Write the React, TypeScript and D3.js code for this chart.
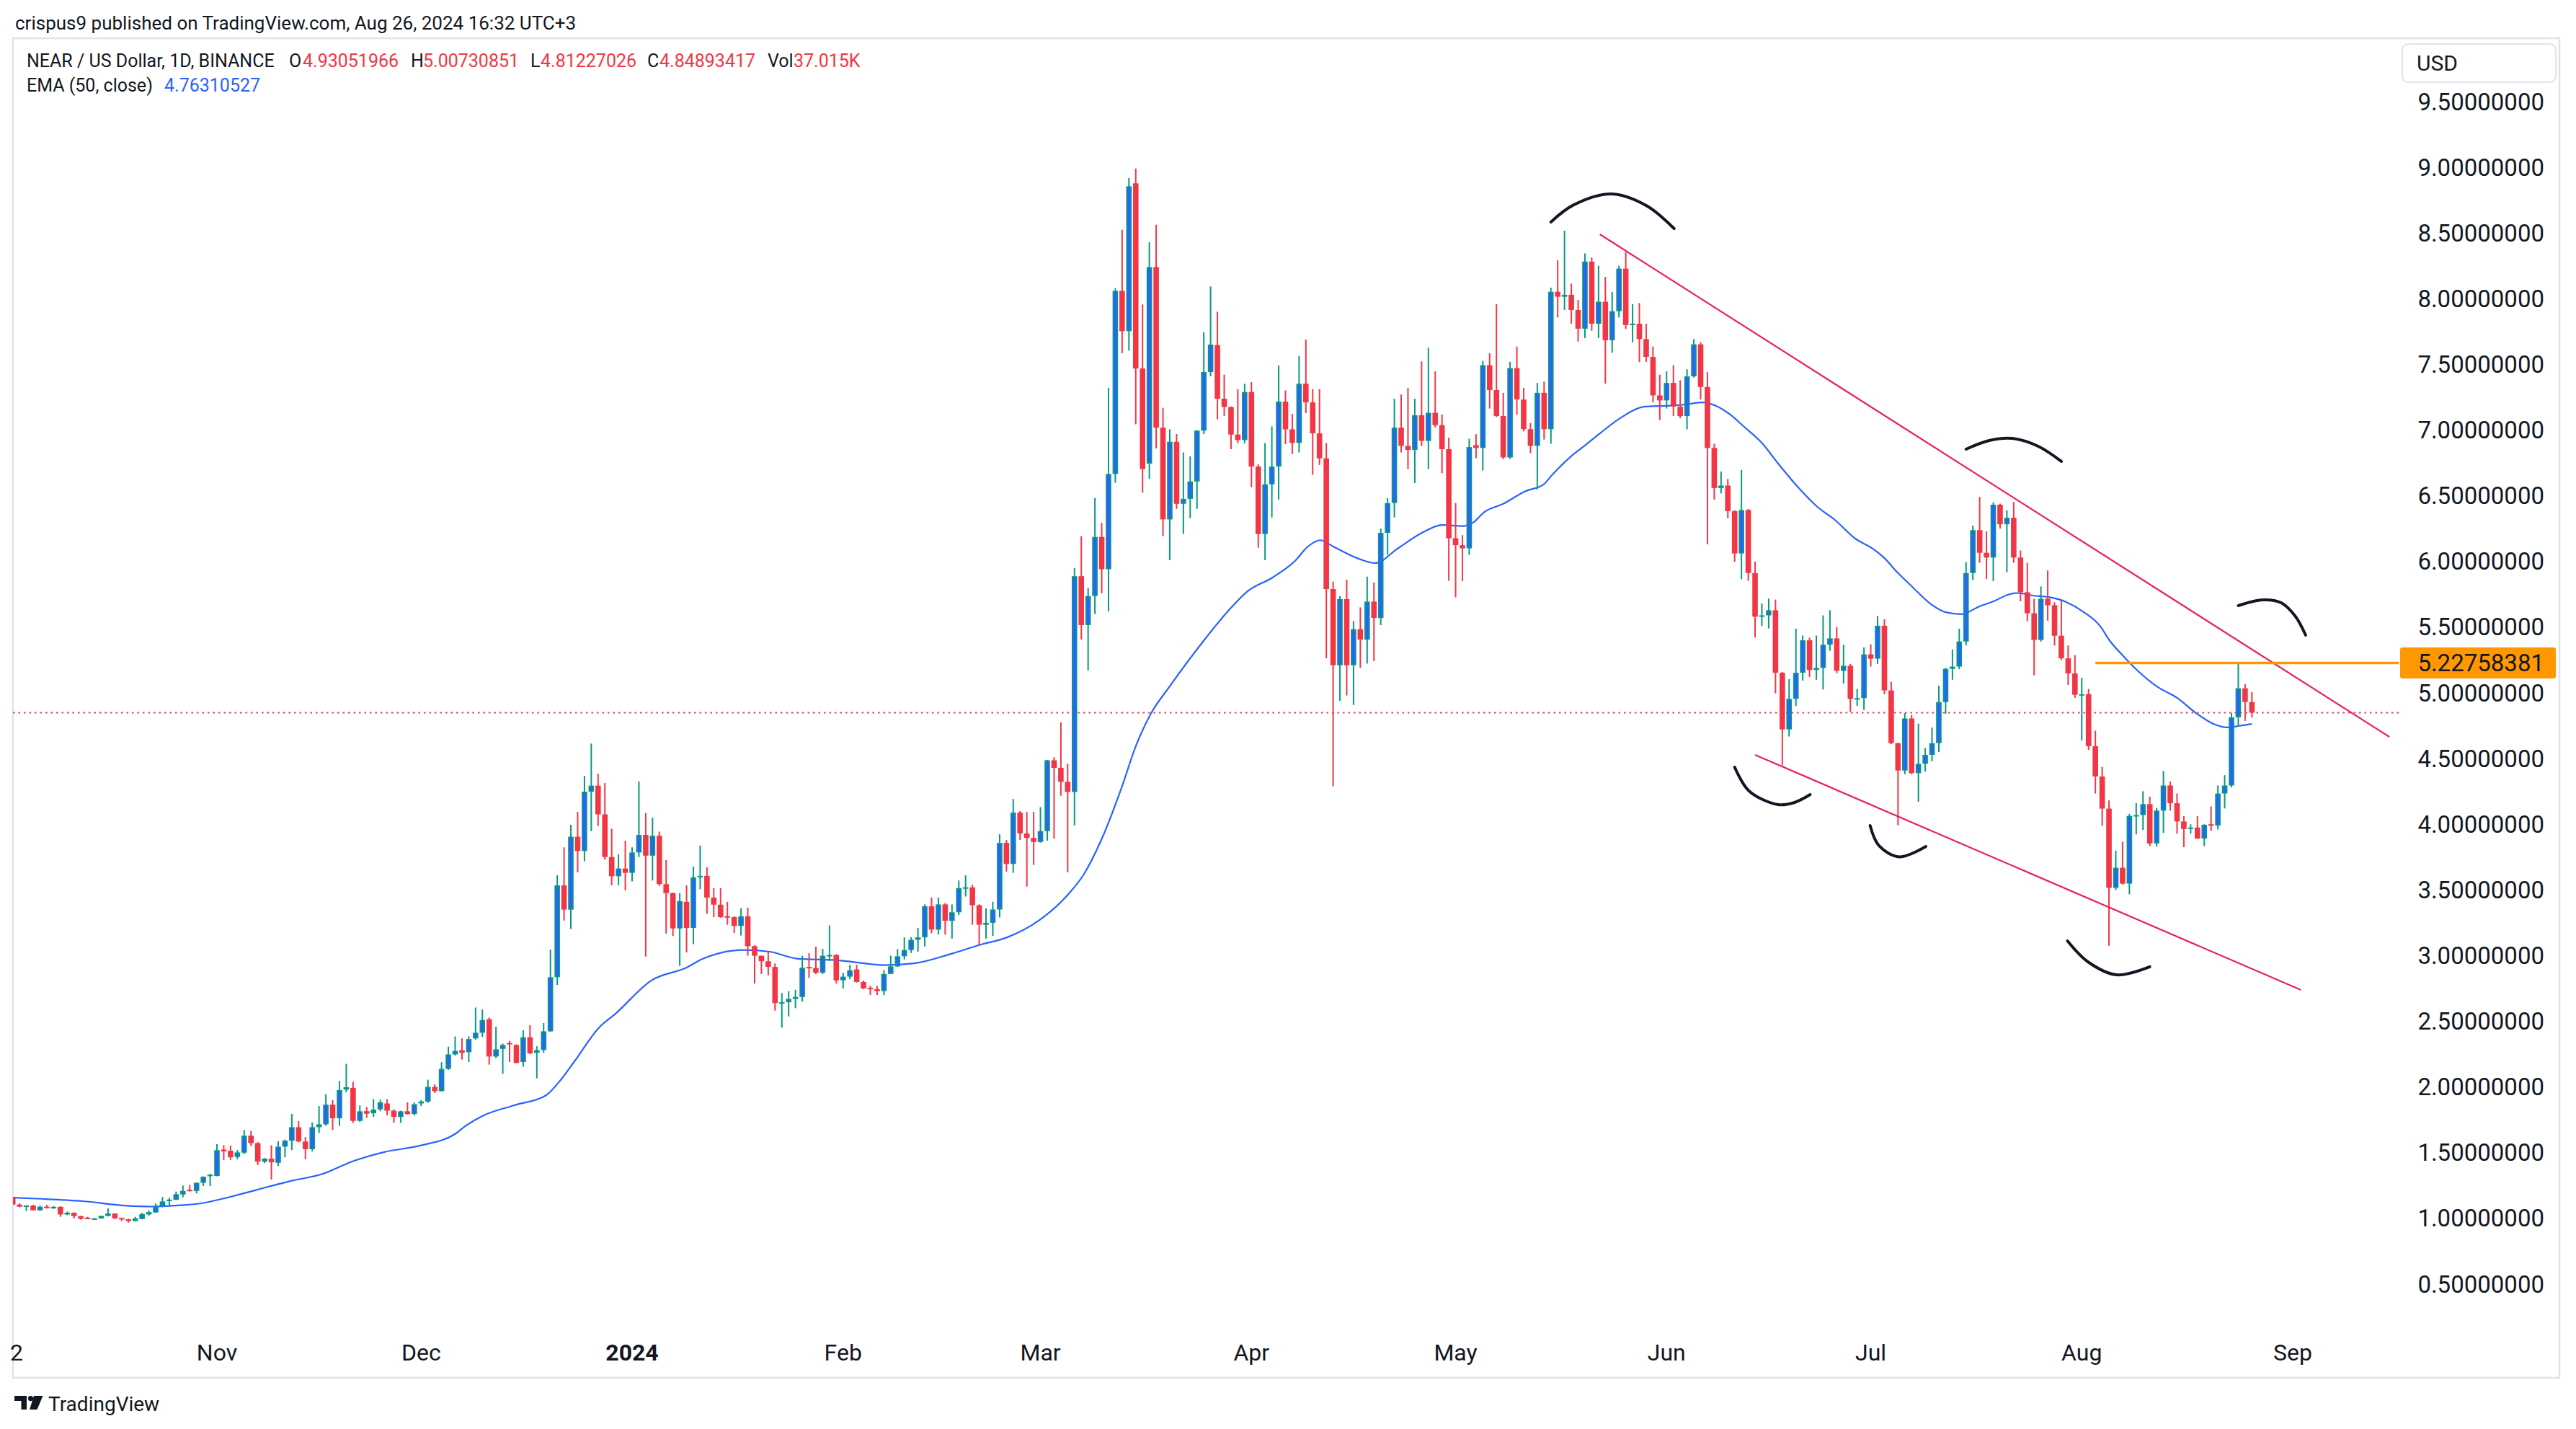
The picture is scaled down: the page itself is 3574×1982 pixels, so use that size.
import React from "react";
import * as d3 from "d3";

// ---------- DATA (NEAR / USD, 1D, Binance) ----------
const FIRST_CANDLE = Date.UTC(2023, 9, 2); // Oct 2 2023
const AXIS_ORIGIN = Date.UTC(2023, 10, 1); // Nov 1 2023

const opens = [
  1.16,1.105,1.089,1.098,1.061,1.089,1.081,1.088,1.030,1.043,
  1.017,1.005,0.998,1.0,1.019,1.037,1.003,0.993,0.979,0.995,
  1.03,1.045,1.094,1.131,1.141,1.182,1.218,1.209,1.271,1.325,
  1.323,1.524,1.515,1.468,1.50,1.63,1.573,1.432,1.455,1.423,
  1.546,1.592,1.694,1.585,1.527,1.694,1.716,1.866,1.762,1.98,
  1.993,1.742,1.816,1.80,1.83,1.875,1.82,1.772,1.815,1.794,
  1.875,1.889,2.001,1.968,2.138,2.248,2.28,2.265,2.37,2.413,
  2.516,2.232,2.29,2.335,2.32,2.19,2.379,2.26,2.281,2.424,
  2.836,3.535,3.35,3.905,3.796,4.248,4.294,4.075,3.751,3.604,
  3.663,3.63,3.785,3.919,3.761,3.913,3.544,3.476,3.207,3.409,
  3.211,3.596,3.607,3.442,3.388,3.30,3.293,3.226,3.299,3.072,
  2.999,2.957,2.914,2.64,2.645,2.671,2.685,2.914,2.905,2.87,
  2.999,3.005,2.812,2.84,2.895,2.80,2.755,2.745,2.73,2.861,
  2.918,2.995,3.043,3.12,3.139,3.376,3.198,3.39,3.265,3.33,
  3.514,3.52,3.384,3.235,3.25,3.351,3.858,3.698,4.089,3.93,
  3.896,3.865,3.948,4.487,4.429,4.323,4.246,5.888,5.516,5.737,
  6.187,5.941,6.666,8.06,7.753,8.878,7.469,6.745,8.241,7.019,
  6.32,6.911,6.439,6.477,6.609,6.996,7.442,7.648,7.239,7.176,
  6.966,6.924,7.29,6.723,6.209,6.587,6.723,7.217,7.006,6.902,
  7.353,7.211,6.975,6.785,5.79,5.21,5.714,5.21,5.485,5.405,
  5.695,5.57,6.218,6.445,7.019,6.88,6.849,7.113,6.918,7.132,
  7.038,6.855,6.177,6.124,6.10,6.886,6.864,7.494,7.305,7.107,
  6.792,7.472,7.233,7.007,6.88,7.284,7.007,8.053,8.015,8.03,
  7.914,7.772,8.283,7.81,7.977,7.684,7.905,8.229,7.80,7.81,
  7.693,7.557,7.264,7.226,7.359,7.179,7.107,7.409,7.653,7.328,
  6.864,6.559,6.578,6.383,6.061,6.392,5.912,5.58,5.59,5.629,
  5.153,4.722,4.954,5.153,5.40,5.174,5.19,5.367,5.415,5.168,
  5.206,4.954,4.96,5.293,5.26,5.511,5.019,4.617,4.409,4.805,
  4.389,4.46,4.528,4.617,4.93,5.183,5.20,5.391,5.912,6.239,
  6.066,6.03,6.432,6.283,6.333,6.03,5.766,5.606,5.403,5.716,
  5.667,5.435,5.263,5.148,4.986,4.99,4.594,4.364,4.119,3.516,
  3.669,3.548,4.063,4.07,4.153,3.854,4.104,4.295,4.16,4.021,
  3.964,3.975,3.891,4.0,3.99,4.234,4.295,4.814,5.035,4.93051966,
];

const highs = [
  1.165,1.115,1.10,1.103,1.098,1.103,1.094,1.092,1.052,1.046,
  1.02,1.012,1.003,1.021,1.076,1.04,1.006,0.997,1.012,1.043,
  1.06,1.113,1.162,1.158,1.204,1.25,1.255,1.273,1.32,1.34,
  1.564,1.557,1.555,1.52,1.673,1.667,1.58,1.46,1.557,1.588,
  1.60,1.795,1.74,1.62,1.73,1.855,1.945,1.90,2.047,2.177,
  2.04,1.86,1.849,1.908,1.903,1.908,1.83,1.82,1.883,1.883,
  1.90,2.056,2.02,2.189,2.307,2.385,2.37,2.385,2.605,2.589,
  2.53,2.458,2.33,2.35,2.325,2.432,2.471,2.31,2.487,3.046,
  3.612,3.824,3.996,4.094,4.369,4.614,4.385,4.314,3.967,3.771,
  3.875,3.824,4.326,4.085,4.05,3.944,3.727,3.48,3.476,3.535,
  3.678,3.838,3.673,3.514,3.514,3.409,3.30,3.361,3.365,3.08,
  3.0,3.033,2.94,2.716,2.73,2.74,2.999,3.02,3.068,3.052,
  3.23,3.01,2.87,2.93,2.93,2.81,2.77,2.77,2.889,3.0,
  3.05,3.139,3.14,3.211,3.39,3.442,3.442,3.40,3.39,3.572,
  3.611,3.54,3.39,3.36,3.41,3.924,3.88,4.193,4.10,4.095,
  4.095,4.13,4.49,4.51,4.775,4.46,5.95,6.193,5.80,6.483,
  6.294,7.322,8.078,8.525,8.919,8.991,7.957,8.43,8.563,7.17,
  7.006,6.97,6.83,6.80,7.0,7.745,8.093,7.901,7.422,7.18,
  7.312,7.353,7.365,6.74,6.902,7.028,7.492,7.302,7.123,7.564,
  7.69,7.312,7.312,6.902,5.847,5.737,5.862,5.547,5.651,5.885,
  5.84,6.25,6.483,7.239,7.271,7.322,7.239,7.523,7.627,7.447,
  7.12,6.943,6.445,6.20,6.934,6.969,7.526,7.585,7.958,7.284,
  7.52,7.636,7.322,7.054,7.359,7.369,8.084,8.292,8.518,8.115,
  7.99,8.345,8.314,8.251,8.166,8.052,8.251,8.355,7.958,7.967,
  7.81,7.636,7.422,7.447,7.494,7.38,7.463,7.693,7.67,7.441,
  6.896,6.685,6.628,6.39,6.697,6.40,6.0,5.68,5.718,5.71,
  5.16,5.104,5.489,5.436,5.42,5.436,5.59,5.629,5.501,5.367,
  5.22,5.03,5.346,5.37,5.585,5.56,5.085,4.62,4.846,4.83,
  4.766,4.58,4.736,5.055,5.19,5.33,5.489,5.995,6.274,6.492,
  6.23,6.45,6.44,6.39,6.453,6.084,5.991,5.716,5.81,5.932,
  5.69,5.704,5.361,5.288,5.116,5.03,4.712,4.437,4.182,3.80,
  3.867,4.079,4.161,4.251,4.21,4.124,4.406,4.325,4.234,4.063,
  4.0,4.063,4.0,4.136,4.295,4.374,4.846,5.22758381,5.067,5.00730851,
];

const lows = [
  1.10,1.085,1.056,1.06,1.058,1.075,1.072,1.012,1.025,1.0,
  0.99,0.995,0.996,0.998,1.015,0.995,0.979,0.968,0.977,0.993,
  1.02,1.043,1.085,1.094,1.14,1.16,1.204,1.19,1.246,1.246,
  1.32,1.445,1.445,1.45,1.49,1.55,1.405,1.42,1.295,1.40,
  1.465,1.52,1.58,1.45,1.51,1.65,1.705,1.673,1.705,1.96,
  1.727,1.735,1.766,1.772,1.815,1.785,1.727,1.727,1.79,1.785,
  1.855,1.88,1.955,1.965,2.13,2.24,2.209,2.19,2.36,2.38,
  2.17,2.22,2.10,2.19,2.18,2.154,2.25,2.066,2.26,2.42,
  2.777,3.267,3.203,3.634,3.718,3.947,3.986,3.73,3.536,3.536,
  3.497,3.565,3.75,2.993,3.572,3.53,3.168,3.149,2.922,3.024,
  3.087,3.505,3.318,3.293,3.288,3.235,3.172,3.153,2.999,2.787,
  2.86,2.85,2.581,2.452,2.537,2.60,2.65,2.83,2.86,2.86,
  2.96,2.787,2.75,2.82,2.795,2.745,2.70,2.70,2.70,2.86,
  2.915,2.97,3.02,3.03,3.07,3.17,3.16,3.16,3.13,3.31,
  3.45,3.235,3.082,3.13,3.15,3.29,3.64,3.63,3.88,3.525,
  3.69,3.86,3.875,3.89,4.217,3.634,3.992,5.406,5.17,5.60,
  5.758,5.62,6.60,7.586,7.605,7.044,6.524,6.63,6.861,6.193,
  6.01,6.40,6.21,6.33,6.40,6.97,7.41,7.082,7.107,6.855,
  6.90,6.90,6.565,6.105,6.01,6.335,6.471,6.893,6.817,6.83,
  7.13,6.66,6.735,5.264,4.29,4.94,4.98,4.908,5.19,5.223,
  5.241,5.516,6.051,6.335,6.83,6.704,6.597,6.88,6.704,7.02,
  6.672,5.853,5.727,5.85,6.05,6.786,6.692,7.164,7.10,6.779,
  6.78,7.116,6.99,6.824,6.549,6.928,6.896,7.857,7.914,7.81,
  7.674,7.70,7.756,7.70,7.353,7.589,7.857,7.77,7.668,7.517,
  7.52,7.211,7.076,7.164,7.107,7.09,7.006,7.40,7.233,6.131,
  6.471,6.518,6.329,5.998,5.866,5.852,5.422,5.51,5.49,4.996,
  4.448,4.668,4.90,5.093,5.12,5.10,5.025,5.32,5.15,5.07,
  4.856,4.90,4.87,5.20,5.22,4.99,4.61,3.993,4.38,4.38,
  4.171,4.40,4.48,4.549,4.84,5.10,5.18,5.36,5.858,5.99,
  5.867,5.85,6.25,5.918,5.99,5.697,5.545,5.133,5.39,5.55,
  5.36,5.25,5.06,4.962,4.638,4.565,4.234,3.989,3.075,3.499,
  3.54,3.467,3.923,3.957,3.834,3.83,3.933,4.104,3.928,3.825,
  3.928,3.888,3.834,3.95,3.96,4.12,4.28,4.742,4.786,4.81227026,
];

const closes = [
  1.105,1.089,1.098,1.061,1.089,1.081,1.088,1.030,1.043,1.017,
  0.997,0.998,1.0,1.019,1.037,1.0,0.998,0.979,1.0,1.032,
  1.048,1.091,1.129,1.143,1.184,1.209,1.209,1.271,1.317,1.332,
  1.519,1.51,1.465,1.502,1.63,1.573,1.432,1.455,1.427,1.546,
  1.592,1.694,1.585,1.527,1.694,1.716,1.866,1.762,1.977,1.998,
  1.742,1.815,1.797,1.828,1.883,1.82,1.772,1.815,1.794,1.869,
  1.889,2.001,1.968,2.138,2.248,2.275,2.26,2.365,2.413,2.51,
  2.232,2.287,2.32,2.328,2.183,2.379,2.256,2.281,2.424,2.836,
  3.535,3.35,3.905,3.796,4.248,4.294,4.075,3.751,3.604,3.663,
  3.63,3.785,3.919,3.761,3.913,3.544,3.476,3.207,3.415,3.211,
  3.596,3.607,3.442,3.388,3.293,3.293,3.226,3.299,3.072,2.999,
  2.957,2.914,2.639,2.645,2.671,2.685,2.908,2.905,2.87,2.999,
  3.005,2.812,2.84,2.889,2.80,2.75,2.745,2.73,2.861,2.918,
  2.995,3.043,3.12,3.139,3.376,3.198,3.39,3.265,3.33,3.514,
  3.52,3.384,3.235,3.25,3.351,3.858,3.698,4.089,3.93,3.896,
  3.865,3.948,4.487,4.429,4.323,4.246,5.888,5.516,5.737,6.187,
  5.941,6.666,8.06,7.753,8.856,7.469,6.704,8.241,7.019,6.32,
  6.911,6.439,6.477,6.609,6.996,7.442,7.651,7.239,7.176,6.966,
  6.924,7.29,6.723,6.209,6.587,6.723,7.217,7.006,6.902,7.353,
  7.211,6.975,6.785,5.79,5.21,5.714,5.21,5.485,5.405,5.695,
  5.57,6.218,6.445,7.019,6.88,6.849,7.113,6.918,7.132,7.038,
  6.855,6.177,6.124,6.10,6.871,6.864,7.494,7.305,7.107,6.792,
  7.472,7.233,7.007,6.88,7.284,7.007,8.053,8.015,8.03,7.914,
  7.772,8.283,7.81,7.977,7.684,7.905,8.229,7.80,7.81,7.693,
  7.557,7.264,7.226,7.359,7.179,7.107,7.409,7.653,7.328,6.864,
  6.559,6.578,6.383,6.061,6.392,5.912,5.58,5.59,5.629,5.153,
  4.722,4.954,5.153,5.40,5.174,5.19,5.367,5.415,5.168,5.206,
  4.954,4.96,5.293,5.26,5.511,5.019,4.617,4.409,4.805,4.389,
  4.46,4.528,4.617,4.93,5.183,5.20,5.391,5.912,6.239,6.066,
  6.03,6.432,6.283,6.333,6.03,5.766,5.606,5.403,5.716,5.667,
  5.435,5.263,5.148,4.986,4.99,4.594,4.364,4.119,3.516,3.669,
  3.548,4.063,4.07,4.153,3.854,4.104,4.295,4.16,4.021,3.964,
  3.975,3.891,3.996,3.99,4.234,4.295,4.814,5.035,4.93051966,4.84893417,
];

// EMA(50, close): day offset from Nov 1 2023, value
const emaDays = [
  -30,-25.8,-19.7,-13.6,-9.4,-6.3,-2.7,2.2,5.8,10.7,15.5,19.8,24.6,30.1,35,36.6,39.1,43.6,48.3,50.6,
  52.5,56.1,58.6,63.8,69,71.4,77.5,81.2,85.4,90.9,98.2,102.4,107.9,112.1,116.1,120.7,124.9,127.4,130.1,133,
  135,137.2,139.9,145.1,148.9,151.3,155.1,158.4,160.3,162.1,164,167.8,170.2,173.5,177.3,180,183,184.6,186.2,189,
  192.2,195,196.1,199,201.1,203.2,206,209.9,213.4,215.9,218,220.5,222.3,224.4,226.9,229.4,232.2,235,237.8,240.6,
  243.5,244.9,247,249.1,251.9,254,256.3,259,261.1,263.2,264.5,266.8,269.2,271.7,274.2,276.7,278.1,280.2,282.3,285.2,
  288,290.8,293.3,295.4,297.2,299,
];
const emaValues = [
  1.158,1.149,1.131,1.098,1.09,1.097,1.112,1.167,1.217,1.283,1.338,1.432,1.505,1.557,1.643,1.707,1.782,1.86,1.935,2.06,
  2.193,2.45,2.56,2.81,2.909,2.976,3.043,3.03,2.976,2.966,2.928,2.941,3.014,3.082,3.139,3.265,3.457,3.621,3.90,4.29,
  4.593,4.84,5.043,5.405,5.642,5.768,5.878,6.004,6.114,6.162,6.114,6.02,5.988,6.099,6.225,6.278,6.27,6.297,6.376,6.439,
  6.534,6.59,6.654,6.802,6.887,6.975,7.085,7.179,7.186,7.195,7.211,7.179,7.12,7.025,6.908,6.745,6.572,6.423,6.313,6.179,
  6.09,6.031,5.912,5.807,5.673,5.614,5.599,5.659,5.698,5.748,5.76,5.741,5.729,5.692,5.618,5.508,5.398,5.275,5.165,5.043,
  4.962,4.846,4.766,4.737,4.749,4.76310527,
];

const priceTicks = [9.5,9,8.5,8,7.5,7,6.5,6,5.5,5,4.5,4,3.5,3,2.5,2,1.5,1,0.5];
const monthTicks = ["2023-11-01","2023-12-01","2024-01-01","2024-02-01","2024-03-01","2024-04-01","2024-05-01","2024-06-01","2024-07-01","2024-08-01","2024-09-01"];
const lastPrice = 4.84893417;
const lastVolume = "37.015K";
const markedHigh = 5.22758381;
const markedHighFromDay = 276;

// drawings (day offset from Nov 1 2023, price)
const upperTrendDays = [203.2, 319.2];
const upperTrendPrices = [8.49, 4.665];
const lowerTrendDays = [226.0, 306.2];
const lowerTrendPrices = [4.528, 2.739];
const arcDays = [
  [196.0,199.3,204.8,209.9,214.1],
  [257.0,260.4,263.8,267.6,271.0],
  [297.0,300.6,303.3,305.4,306.9],
  [223.0,225.1,229.4,231.8,234.1],
  [242.9,244.2,247.2,251.1],
  [271.9,274.9,279.1,284.0],
];
const arcPrices = [
  [8.584,8.713,8.798,8.713,8.534],
  [6.855,6.921,6.937,6.877,6.762],
  [5.664,5.708,5.686,5.582,5.439],
  [4.435,4.254,4.149,4.166,4.226],
  [3.990,3.837,3.752,3.831],
  [3.112,2.953,2.854,2.915],
];

// ---------- STYLE ----------
const UP = "#089981";
const UP_FILL = "#2962ff";
const DOWN = "#f23645";
const TEXT = "#131722";
const FONT = "Roboto, 'Noto Sans', Arial, sans-serif";

export default function App() {
  const W = 3574, H = 1982;
  const frame = { l: 18, t: 53, r: 3551, b: 1911 };
  const plotRight = 3328;
  const plotBottom = 1838;

  const x = d3.scaleLinear().domain([0, 305]).range([301, 3181]);
  const y = d3.scaleLinear().domain([0.5, 9.5]).range([1781, 141]);

  const candles = opens.map((o, i) => {
    const t = d3.utcDay.offset(new Date(FIRST_CANDLE), i).getTime();
    const d = Math.round((t - AXIS_ORIGIN) / 864e5);
    return { d, o, h: highs[i], l: lows[i], c: closes[i] };
  });

  const bodyW = 7.6;
  const emaLine = d3.line<number>()
    .x((_, i) => x(emaDays[i]))
    .y((v) => y(v))
    .curve(d3.curveMonotoneX)(emaValues) || "";

  const arcLine = (days: number[], prices: number[]) =>
    d3.line<number>().x((_, i) => x(days[i])).y((p) => y(p)).curve(d3.curveCatmullRom.alpha(0.5))(prices) || "";

  const fmt = d3.format(".8f");
  const origin = new Date(AXIS_ORIGIN).getTime();
  const months = monthTicks.map((s) => {
    const dt = new Date(s + "T00:00:00Z");
    const d = Math.round((dt.getTime() - origin) / 864e5);
    const isYear = dt.getUTCMonth() === 0;
    return { d, label: isYear ? d3.utcFormat("%Y")(dt) : d3.utcFormat("%b")(dt), isYear };
  });

  return (
    <svg width={W} height={H} viewBox={`0 0 ${W} ${H}`} style={{ position: "absolute", left: 0, top: 0, display: "block", background: "#fff" }} fontFamily={FONT}>
      <rect x={0} y={0} width={W} height={H} fill="#ffffff" />
      <defs>
        <clipPath id="plot">
          <rect x={frame.l} y={frame.t} width={plotRight - frame.l} height={plotBottom - frame.t} />
        </clipPath>
      </defs>

      {/* header */}
      <text x={21} y={41} fontSize={26} fill={TEXT}>crispus9 published on TradingView.com, Aug 26, 2024 16:32 UTC+3</text>

      {/* frame */}
      <rect x={frame.l} y={frame.t} width={frame.r - frame.l} height={frame.b - frame.t} fill="none" stroke="#e0e3eb" strokeWidth={2.5} />

      {/* legend */}
      <g fontSize={25}>
        <text x={37} y={93} fill={TEXT}>NEAR / US Dollar, 1D, BINANCE</text>
        <text x={401} y={93} fill={TEXT}>O</text>
        <text x={420} y={93} fill={DOWN}>{fmt(opens[opens.length - 1])}</text>
        <text x={570} y={93} fill={TEXT}>H</text>
        <text x={587} y={93} fill={DOWN}>{fmt(highs[highs.length - 1])}</text>
        <text x={736} y={93} fill={TEXT}>L</text>
        <text x={750} y={93} fill={DOWN}>{fmt(lows[lows.length - 1])}</text>
        <text x={898} y={93} fill={TEXT}>C</text>
        <text x={915} y={93} fill={DOWN}>{fmt(closes[closes.length - 1])}</text>
        <text x={1065} y={93} fill={TEXT}>Vol</text>
        <text x={1101} y={93} fill={DOWN}>{lastVolume}</text>
        <text x={37} y={127} fill={TEXT}>EMA (50, close)</text>
        <text x={228} y={127} fill={UP_FILL}>{fmt(emaValues[emaValues.length - 1])}</text>
      </g>

      <g clipPath="url(#plot)">
        {/* last price dotted line */}
        <line x1={frame.l} x2={plotRight} y1={y(lastPrice)} y2={y(lastPrice)} stroke={DOWN} strokeWidth={2} strokeDasharray="2.5 5" />

        {/* EMA */}
        <path d={emaLine} fill="none" stroke="#2962ff" strokeWidth={2.2} />

        {/* candles */}
        {candles.map((k, i) => {
          const up = k.c >= k.o;
          const cx = x(k.d);
          const top = y(Math.max(k.o, k.c));
          const bot = y(Math.min(k.o, k.c));
          const h = Math.max(2, bot - top);
          const col = up ? UP : DOWN;
          return (
            <g key={i}>
              <line x1={cx} x2={cx} y1={y(k.h)} y2={y(k.l)} stroke={col} strokeWidth={2} />
              <rect x={cx - bodyW / 2} y={top} width={bodyW} height={h} fill={col} />
              {up && h > 4 ? (
                <rect x={cx - bodyW / 2 + 1.8} y={top + 1.8} width={bodyW - 3.6} height={h - 3.6} fill={UP_FILL} />
              ) : null}
            </g>
          );
        })}

        {/* trend lines */}
        <line x1={x(upperTrendDays[0])} y1={y(upperTrendPrices[0])} x2={x(upperTrendDays[1])} y2={y(upperTrendPrices[1])} stroke="#e91e63" strokeWidth={2.2} />
        <line x1={x(lowerTrendDays[0])} y1={y(lowerTrendPrices[0])} x2={x(lowerTrendDays[1])} y2={y(lowerTrendPrices[1])} stroke="#e91e63" strokeWidth={2.2} />

        {/* arcs */}
        {arcDays.map((ds, i) => (
          <path key={i} d={arcLine(ds, arcPrices[i])} fill="none" stroke="#131722" strokeWidth={4} strokeLinecap="round" />
        ))}

        {/* marked high */}
        <line x1={x(markedHighFromDay)} x2={plotRight} y1={y(markedHigh)} y2={y(markedHigh)} stroke="#ff9800" strokeWidth={3.5} />
      </g>

      {/* price axis */}
      <rect x={3333} y={61} width={213} height={53} rx={8} fill="#fff" stroke="#e0e3eb" strokeWidth={2} />
      <text x={3353} y={98} fontSize={30} fill={TEXT}>USD</text>
      <g fontSize={33} fill={TEXT} textAnchor="end">
        {priceTicks.map((p) => (
          <text key={p} x={3530} y={y(p)} dy="0.35em">{fmt(p)}</text>
        ))}
      </g>
      <rect x={3330} y={y(markedHigh) - 21.5} width={216} height={43} rx={3} fill="#ff9800" />
      <text x={3530} y={y(markedHigh)} dy="0.35em" textAnchor="end" fontSize={33} fill={TEXT}>{fmt(markedHigh)}</text>

      {/* time axis */}
      <g fontSize={32} fill={TEXT} textAnchor="middle">
        <text x={23} y={1876} dy="0.35em">2</text>
        {months.map((m) => (
          <text key={m.d} x={x(m.d)} y={1876} dy="0.35em" fontWeight={m.isYear ? 700 : 400}>{m.label}</text>
        ))}
      </g>

      {/* TradingView logo */}
      <g fill={TEXT}>
        <path d="M20 1936 H37 V1955 H29.5 V1943 H20 Z" />
        <circle cx={42.5} cy={1939.6} r={3.6} />
        <path d="M47 1936 H59.5 L51.5 1955 H41 Z" />
        <text x={67} y={1957} fontSize={28}>TradingView</text>
      </g>
    </svg>
  );
}
